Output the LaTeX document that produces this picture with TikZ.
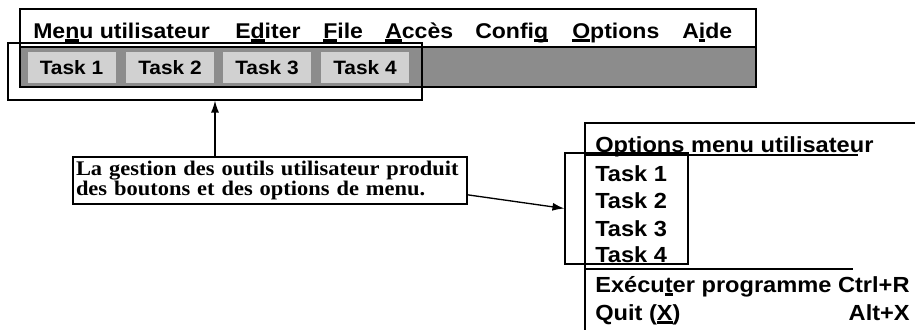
\documentclass[tikz,border=0pt]{standalone}
\usepackage{fontspec}
\newfontfamily\menufont[FakeStretch=1.08]{Liberation Sans}
\newfontfamily\notefont[FakeStretch=1.08]{Liberation Serif}
\usetikzlibrary{arrows.meta,fit}
% underlined accelerator letter
\newcommand\mkey[1]{\setbox0\hbox{#1}\rlap{\rule[-3pt]{\wd0}{2pt}}#1}

\begin{document}
\begin{tikzpicture}[x=0.75pt, y=-0.75pt,
    menuitem/.style={anchor=base west, inner sep=0pt, font=\menufont\bfseries\fontsize{16}{19}\selectfont},
    taskbtn/.style={fill=black!18, minimum width=66pt, minimum height=23pt, inner sep=0pt, font=\menufont\bfseries\fontsize{14.5}{17}\selectfont},
    optitem/.style={anchor=base west, inner sep=0pt, font=\menufont\bfseries\fontsize{16.4}{19}\selectfont},
    hlbox/.style={draw, line width=0.8pt, inner sep=0pt},
    notebox/.style={draw, line width=1.3pt, align=left, inner xsep=2.3pt, inner ysep=0pt, text width=291pt, minimum height=35.25pt, font=\notefont\bfseries\fontsize{15.6}{13.6}\selectfont},
    arr/.style={-{Latex[length=9pt,width=6pt]}, line width=1pt}
]
\useasboundingbox (0,0) rectangle (915,329);
% Menu bar with task buttons
\fill[black!45] (20,47) rectangle (756,87);
\draw[line width=1.1pt] (20,9) rectangle (756,87);
\draw[line width=2pt] (20,47) -- (756,47);
\foreach \x/\lbl [count=\i] in {33/{Me\mkey{n}u utilisateur}, 235/{E\mkey{d}iter}, 323/{\mkey{F}ile}, 385/{\mkey{A}ccès}, 475/{Confi\mkey{g}}, 572/{\mkey{O}ptions}, 682/{A\mkey{i}de}}
  \node[menuitem] (menu\i) at (\x,38) {\lbl};
\foreach \i/\x in {1/71.5, 2/170, 3/267, 4/365}
  \node[taskbtn] (btn\i) at (\x,67.5) {Task \i};
\coordinate (hlA) at (8,43);
\coordinate (hlB) at (422,100);
\node[hlbox, fit=(hlA)(hlB)] (taskhl) {};
% Note
\node[notebox] (note) at (270,180.5) {La gestion des outils utilisateur produit\\des boutons et des options de menu.};
% User options menu
\draw[line width=1.1pt] (585,335) |- (920,123);
\node[optitem] (opthead) at (595,152) {\mkey{Options} menu utilisateur};
\draw[line width=0.8pt] (585,155) -- (858,155);
\foreach \i/\y in {1/181, 2/208, 3/236, 4/262}
  \node[optitem] (opt\i) at (595,\y) {Task \i};
\coordinate (hlC) at (565,153);
\coordinate (hlD) at (688,264);
\node[hlbox, fit=(hlC)(hlD)] (opthl) {};
\draw[line width=0.8pt] (585,269) -- (853,269);
\node[optitem] (runitem) at (595,292) {Exécu\mkey{t}er programme Ctrl+R};
\node[optitem] (quititem) at (595,320) {Quit (\mkey{X})};
\node[optitem, anchor=base east] (quitkey) at (910,320) {Alt+X};
% Arrows
\draw[arr] (taskhl.south |- note.north) -- (taskhl.south);
\draw[arr] ([yshift=7.5pt]note.south east) -- (opthl.west);
\end{tikzpicture}
\end{document}
